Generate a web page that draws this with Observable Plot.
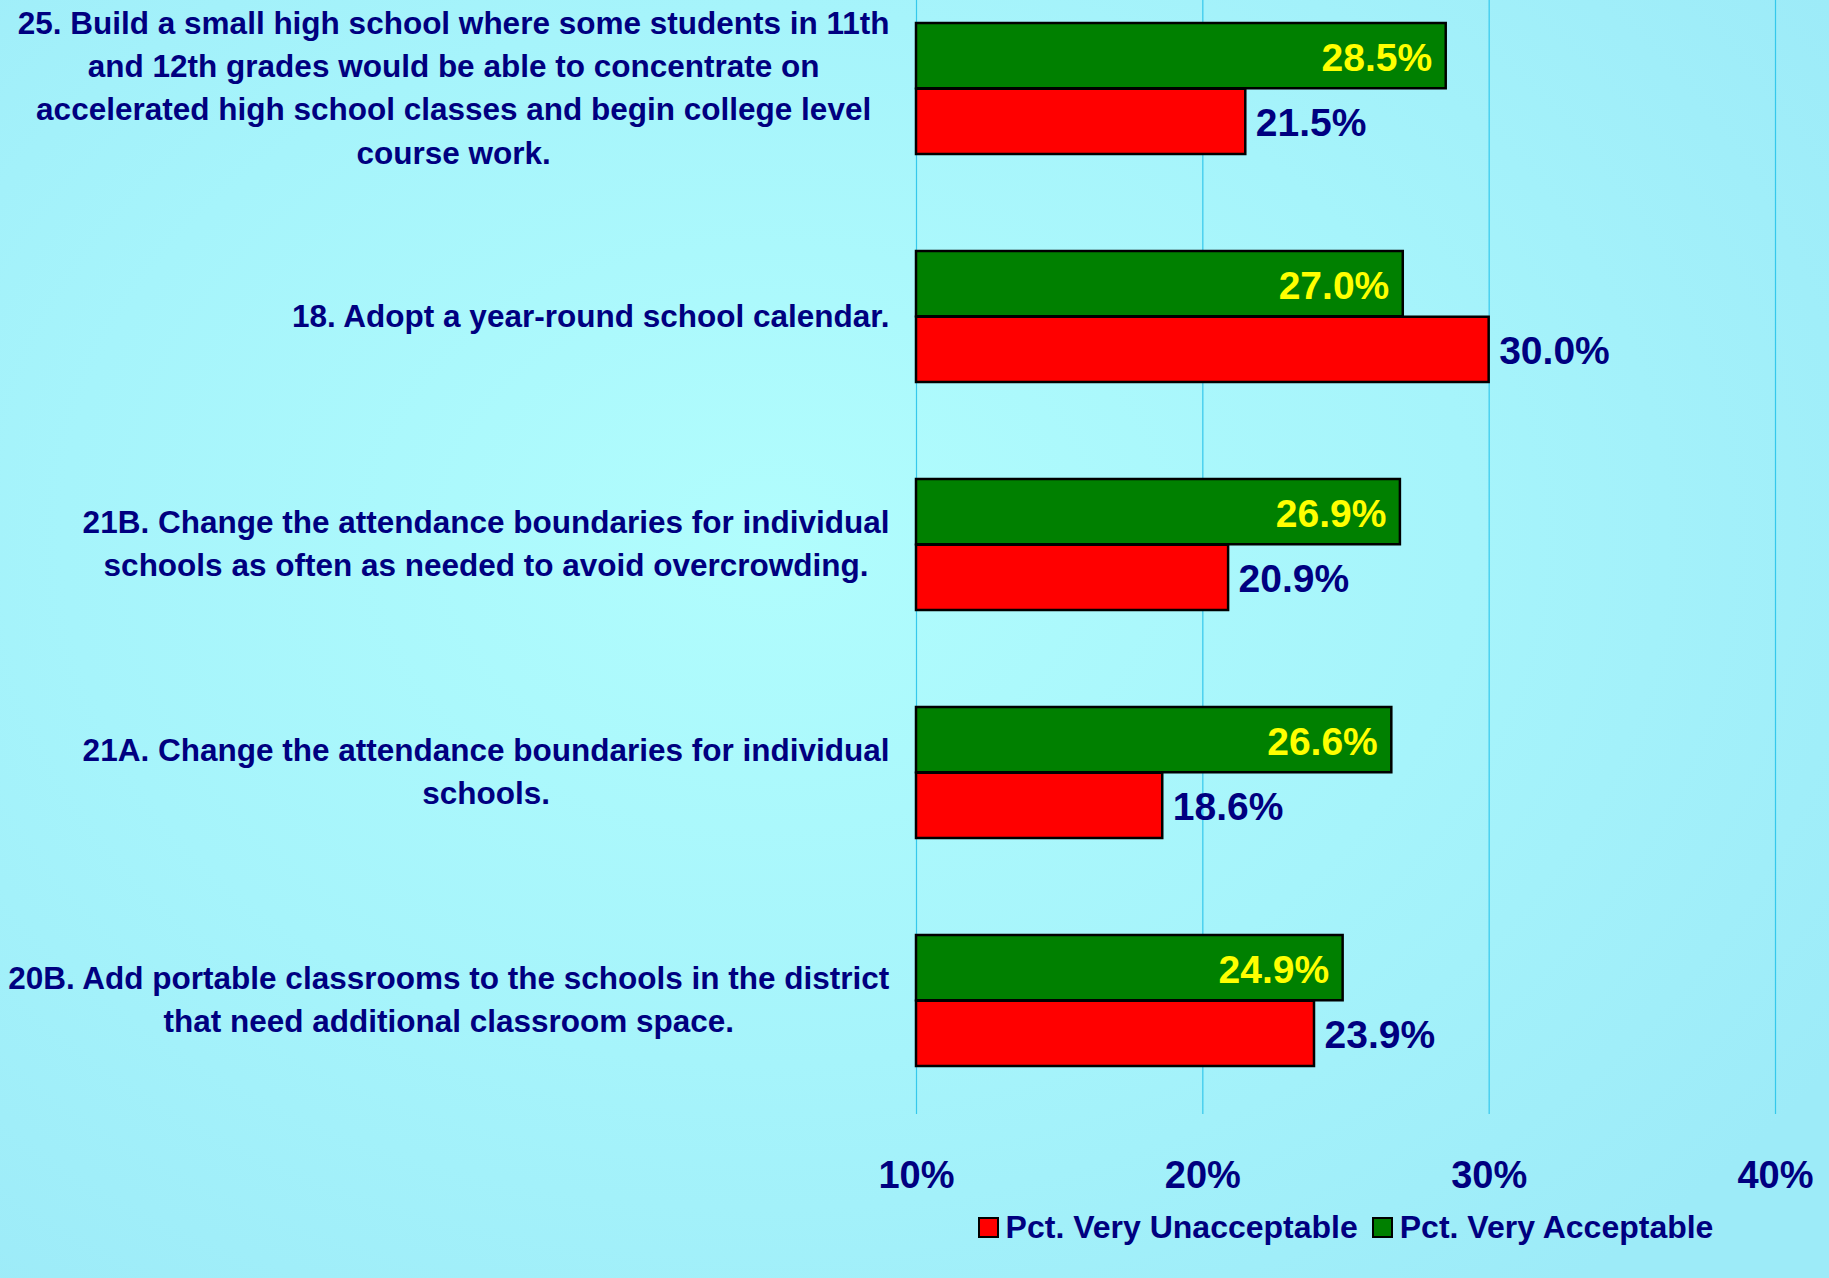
<!DOCTYPE html>
<html>
<head>
<meta charset="utf-8">
<script src="https://cdn.jsdelivr.net/npm/d3@7"></script>
<script src="https://cdn.jsdelivr.net/npm/@observablehq/plot@0.6"></script>
<style>
  html, body { margin: 0; padding: 0; }
  body {
    width: 1829px; height: 1278px; overflow: hidden; position: relative;
    background: radial-gradient(ellipse 70% 75% at 42% 42%, #b1fdfd 0%, #a6f4fb 55%, #9debf8 100%);
    font-family: "Liberation Sans", Arial, sans-serif;
  }
  #chart { position: absolute; left: 0; top: 0; }
  #legend {
    position: absolute; left: 916px; width: 859px; top: 1205px; height: 44px;
    display: flex; justify-content: center; align-items: center;
    font: bold 32px "Liberation Sans", Arial, sans-serif; color: #000080; white-space: nowrap;
  }
  .item { display: inline-flex; align-items: center; margin: 0 7px; }
  .sw { display: inline-block; width: 17px; height: 17px; border: 2px solid #000; margin-right: 7px; }
</style>
</head>
<body>
<div id="chart"></div>
<div id="legend"></div>
<script>
// ---- data ----
const categories = [
  "25. Build a small high school where some students in 11th\nand 12th grades would be able to concentrate on\naccelerated high school classes and begin college level\ncourse work.",
  "18. Adopt a year-round school calendar.",
  "21B. Change the attendance boundaries for individual\nschools as often as needed to avoid overcrowding.",
  "21A. Change the attendance boundaries for individual\nschools.",
  "20B. Add portable classrooms to the schools in the district\nthat need additional classroom space."
];
const acceptable = [28.5, 27.0, 26.9, 26.6, 24.9];
const unacceptable = [21.5, 30.0, 20.9, 18.6, 23.9];
const xTicks = [10, 20, 30, 40];
const seriesNames = ["Pct. Very Unacceptable", "Pct. Very Acceptable"];
const seriesColors = ["#ff0000", "#008000"];

// ---- layout ----
const W = 1829, H = 1205;
const marginTop = 0, marginBottom = 91, marginLeft = 916, marginRight = 54;
const padInner = 0.4243, padOuter = 0.1509, align = 0.319;
const rangeH = H - marginTop - marginBottom;
const step = rangeH / (categories.length - padInner + 2 * padOuter);
const band = step * (1 - padInner);
const half = band / 2;

const rows = categories.map((c, i) => ({category: c, acceptable: acceptable[i], unacceptable: unacceptable[i]}));
const xMin = xTicks[0];

const chart = Plot.plot({
  width: W, height: H,
  marginTop, marginBottom, marginLeft, marginRight,
  style: {background: "transparent", color: "#000080", fontFamily: "'Liberation Sans', Arial, sans-serif", fontWeight: "bold", overflow: "visible"},
  x: {domain: [xTicks[0], xTicks[xTicks.length - 1]]},
  y: {domain: categories, paddingInner: padInner, paddingOuter: padOuter, align},
  marks: [
    Plot.gridX(xTicks, {stroke: "#35c8ec", strokeOpacity: 1, strokeWidth: 1.2}),
    Plot.barX(rows, {x1: xMin, x2: "acceptable", y: "category", fill: seriesColors[1], stroke: "#000", strokeWidth: 2.5, insetBottom: half}),
    Plot.barX(rows, {x1: xMin, x2: "unacceptable", y: "category", fill: seriesColors[0], stroke: "#000", strokeWidth: 2.5, insetTop: half}),
    Plot.text(rows, {x: "acceptable", y: "category", text: d => d.acceptable.toFixed(1) + "%", textAnchor: "end", dx: -14, dy: -half / 2 + 2, fill: "#ffff00", fontSize: 39, fontWeight: "bold"}),
    Plot.text(rows, {x: "unacceptable", y: "category", text: d => d.unacceptable.toFixed(1) + "%", textAnchor: "start", dx: 10, dy: half / 2 + 2, fill: "#000080", fontSize: 39, fontWeight: "bold"}),
    Plot.axisX({ticks: xTicks, tickFormat: d => d + "%", tickSize: 0, tickPadding: 47, fontSize: 38, label: null}),
    Plot.axisY({tickSize: 0, tickPadding: 27, fontSize: 31.5, lineHeight: 1.37, dy: -4, label: null})
  ]
});
document.getElementById("chart").append(chart);

// center each multi-line category label within its own block (block right-aligned)
chart.querySelectorAll('g[aria-label="y-axis tick label"] text').forEach(t => {
  const w = t.getBBox().width;
  t.setAttribute("text-anchor", "middle");
  const spans = t.querySelectorAll("tspan");
  if (spans.length) spans.forEach(s => s.setAttribute("x", -w / 2));
  else t.setAttribute("x", -w / 2);
});

// legend
const legend = document.getElementById("legend");
seriesNames.forEach((name, i) => {
  const item = document.createElement("span");
  item.className = "item";
  const sw = document.createElement("span");
  sw.className = "sw";
  sw.style.background = seriesColors[i];
  item.append(sw, document.createTextNode(name));
  legend.append(item);
});
</script>
</body>
</html>
